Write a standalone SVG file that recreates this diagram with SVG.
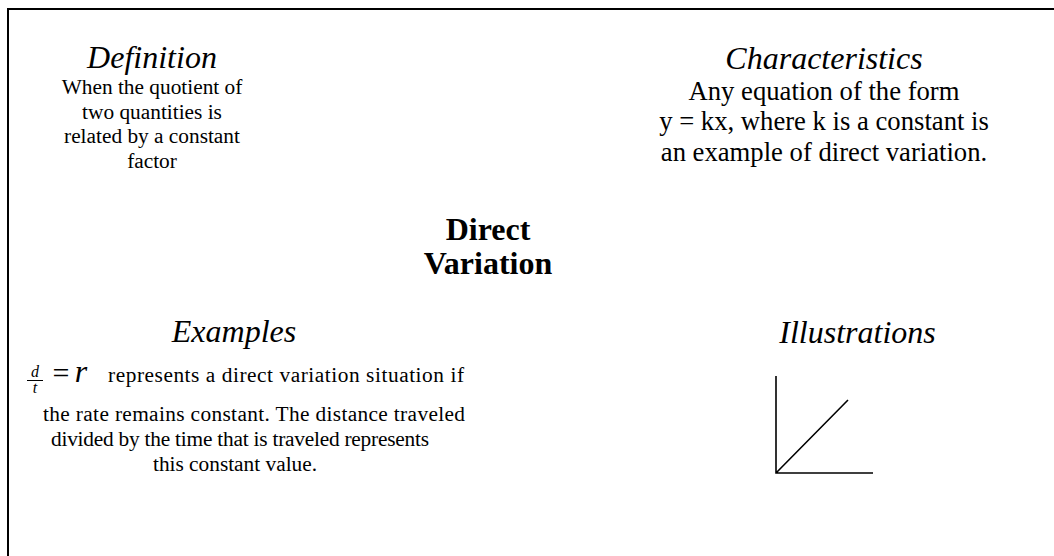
<svg xmlns="http://www.w3.org/2000/svg" width="1054" height="556" viewBox="0 0 1054 556" font-family="'Liberation Serif', serif">
<style>
text { font-family: 'Liberation Serif', serif; fill: #000; text-anchor: middle; }
.head { font-size: 32px; font-style: italic; }
.title { font-size: 32px; font-weight: bold; }
.small { font-size: 21.33px; }
.med { font-size: 26.67px; }
.ln { stroke: #000; stroke-width: 1.6; fill: none; }
</style>
<rect x="8" y="9" width="1100" height="600" fill="#fff" stroke="#000" stroke-width="2"/>
<g id="connectors"/>
<g id="definition">
<text class="head" x="152" y="68">Definition</text>
<text class="small" x="152" y="94">When the quotient of</text>
<text class="small" x="152" y="118.5">two quantities is</text>
<text class="small" x="152" y="143">related by a constant</text>
<text class="small" x="152" y="167.5">factor</text>
</g>
<g id="characteristics">
<text class="head" x="824" y="69">Characteristics</text>
<text class="med" x="824" y="100">Any equation of the form</text>
<text class="med" x="824" y="130">y = kx, where k is a constant is</text>
<text class="med" x="824" y="160.5">an example of direct variation.</text>
</g>
<g id="center">
<text class="title" x="488" y="240">Direct</text>
<text class="title" x="488" y="274">Variation</text>
</g>
<g id="examples">
<text class="head" x="234" y="342">Examples</text>
<text x="35" y="377" style="font-size:16px;font-style:italic">d</text>
<line x1="27" y1="380.5" x2="43" y2="380.5" stroke="#000" stroke-width="1"/>
<text x="35" y="393" style="font-size:16px;font-style:italic">t</text>
<text x="61" y="383" style="font-size:30px">=</text>
<text x="81" y="382" style="font-size:32px;font-style:italic">r</text>
<text class="small" x="286" y="381.5" textLength="356" lengthAdjust="spacing">represents a direct variation situation if</text>
<text class="small" x="254" y="421" textLength="422" lengthAdjust="spacing">the rate remains constant. The distance traveled</text>
<text class="small" x="240" y="446" textLength="378" lengthAdjust="spacing">divided by the time that is traveled represents</text>
<text class="small" x="235" y="471">this constant value.</text>
</g>
<g id="illustrations">
<text class="head" x="857.5" y="343">Illustrations</text>
<path class="ln" d="M776,376 V473 H873 M776,473 L848,400"/>
</g>
</svg>
